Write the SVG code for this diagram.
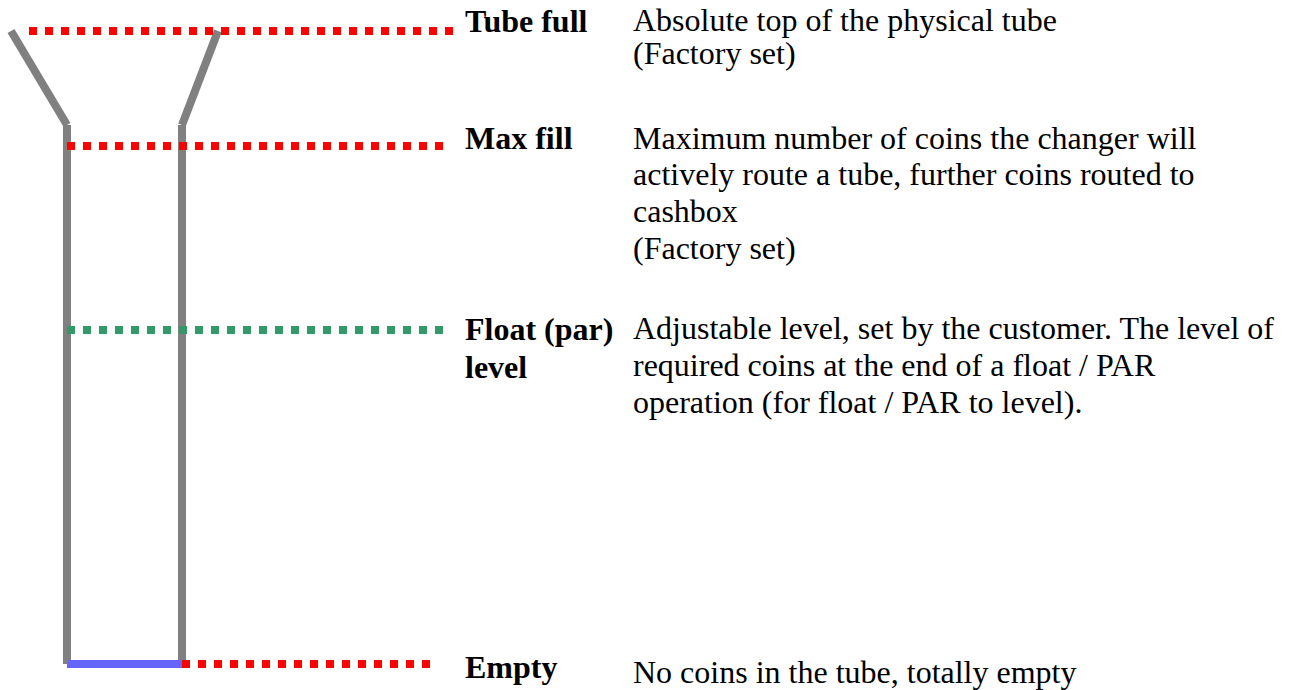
<svg xmlns="http://www.w3.org/2000/svg" width="1289" height="690" viewBox="0 0 1289 690">
<style>
.tube{stroke:#808080;stroke-width:8;fill:none;stroke-linecap:butt}
.lvl{stroke-width:8;stroke-dasharray:8 8;fill:none}
.red{stroke:#FF0000}
.green{stroke:#339966}
.base{stroke:#6666FF;stroke-width:8}
.lab{font-family:"Liberation Serif","Times New Roman",serif;font-weight:bold;font-size:32px;fill:#000}
.desc{font-family:"Liberation Serif","Times New Roman",serif;font-size:32px;fill:#000}
</style>
<rect width="1289" height="690" fill="#fff"/>
<g id="tube">
<line class="tube" x1="11" y1="31" x2="67" y2="125"/>
<line class="tube" x1="218" y1="31" x2="182" y2="125"/>
<line class="tube" x1="67" y1="125" x2="67" y2="664"/>
<line class="tube" x1="182" y1="125" x2="182" y2="664"/>
</g>
<g id="connectors">
<line class="lvl red" x1="29" y1="31" x2="453" y2="31"/>
<line class="lvl red" x1="67" y1="146" x2="443" y2="146"/>
<line class="lvl green" x1="67" y1="330" x2="443" y2="330"/>
<line class="base" x1="67" y1="664" x2="182" y2="664"/>
<line class="lvl red" x1="182" y1="664" x2="432" y2="664"/>
</g>
<g id="tube-full">
<text class="lab" x="465" y="32">Tube full</text>
<text class="desc" x="633" y="31">Absolute top of the physical tube</text>
<text class="desc" x="633" y="64">(Factory set)</text>
</g>
<g id="max-fill">
<text class="lab" x="465" y="148.5">Max fill</text>
<text class="desc" x="633" y="148.5">Maximum number of coins the changer will</text>
<text class="desc" x="633" y="185">actively route a tube, further coins routed to</text>
<text class="desc" x="633" y="222">cashbox</text>
<text class="desc" x="633" y="258.5">(Factory set)</text>
</g>
<g id="float-level">
<text class="lab" x="465" y="340">Float (par)</text>
<text class="lab" x="465" y="378">level</text>
<text class="desc" x="633" y="339">Adjustable level, set by the customer. The level of</text>
<text class="desc" x="633" y="376">required coins at the end of a float / PAR</text>
<text class="desc" x="633" y="412.5">operation (for float / PAR to level).</text>
</g>
<g id="empty">
<text class="lab" x="465" y="678">Empty</text>
<text class="desc" x="633" y="683">No coins in the tube, totally empty</text>
</g>
</svg>
